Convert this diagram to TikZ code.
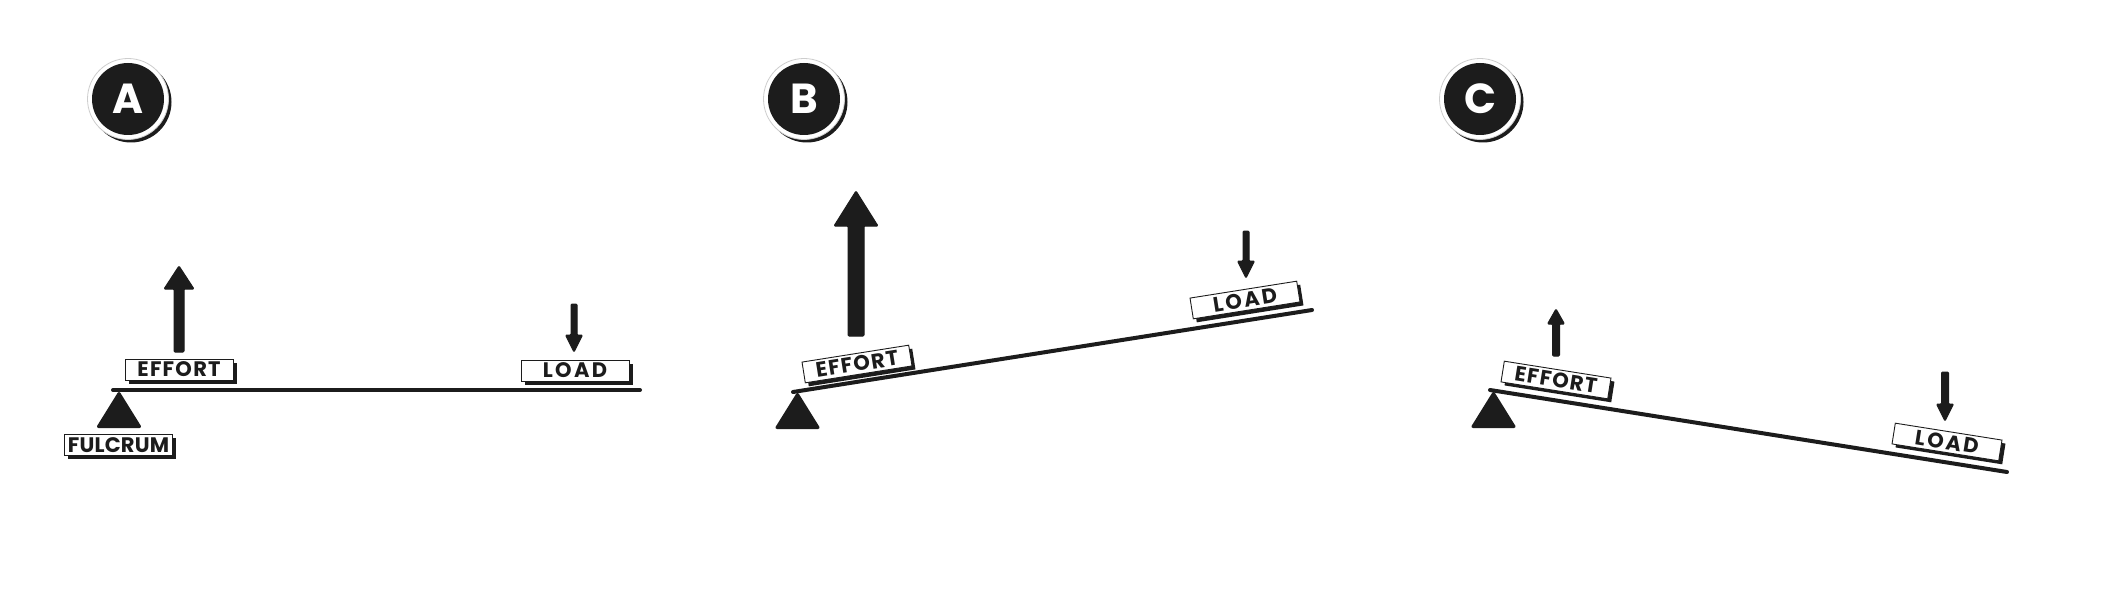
\documentclass[tikz,border=0pt]{standalone}
\usepackage{fontspec}
\setmainfont{Poppins}
\usetikzlibrary{shadows}
\definecolor{ink}{RGB}{28,28,28}
\definecolor{ringgray}{RGB}{205,205,205}
\newcommand\forcearrow[6]{% x, tail y, head-base y, tip y, shaft width, head width
  \filldraw[ink, line width=1pt, line join=round, rounded corners=1pt]
    (#1-#5/2,#2) -- (#1-#5/2,#3) -- (#1-#6/2,#3) -- (#1,#4) -- (#1+#6/2,#3)
    -- (#1+#5/2,#3) -- (#1+#5/2,#2) -- cycle;}
\newcommand\fulcrumtri[2]{% apex x, apex y
  \filldraw[ink, line width=3pt, line join=round] (#1,#2+1.5) -- (#1-20.5,#2+34.5) -- (#1+20.5,#2+34.5) -- cycle;}
\newcommand\lblfont[1]{\fontsize{21}{21}\selectfont\bfseries\addfontfeatures{LetterSpace=#1}}
\tikzset{
  lbl/.style={draw=ink, line width=0.9pt, fill=white, minimum width=108pt, minimum height=21pt,
    inner sep=0pt, text=ink,
    drop shadow={shadow xshift=3.5pt, shadow yshift=-3.5pt, opacity=1, fill=ink}},
  beam/.style={draw=ink, line width=4pt, line cap=round},
  badgeshadow/.style={circle, fill=ink, minimum size=81pt, inner sep=0pt},
  badgering/.style={circle, fill=white, draw=ringgray, line width=0.8pt, minimum size=81pt, inner sep=0pt},
  badge/.style={circle, fill=ink, minimum size=72pt, inner sep=0pt, text=white,
    font=\fontsize{42}{42}\selectfont\bfseries},
}
\begin{document}
\begin{tikzpicture}[x=1pt, y=-1pt]
\useasboundingbox[fill=white] (0,0) rectangle (2107,607);
% ---------- badges
\foreach \n/\x in {A/128, B/804, C/1480}{
  \node[badgeshadow] (s\n) at (\x+3,99+3) {};
  \node[badgering] (r\n) at (\x,99) {};
  \node[badge] (c\n) at (\x,99) {\n};
}
% ---------- Panel A
\draw[beam] (113,390) coordinate (a0) -- (640,390) coordinate (a1);
\fulcrumtri{119}{392}
\node[lbl, font=\lblfont{1}] (fA) at (118.5,445) {FULCRUM};
\node[lbl, font=\lblfont{6}] (eA) at (179,369.5) {EFFORT};
\node[lbl, font=\lblfont{11}] (lA) at (575,370.5) {LOAD};
\forcearrow{179}{352}{289}{266}{10}{30}
\forcearrow{574}{304}{335}{352}{6}{17}
% ---------- Panel B
\draw[beam] (793,392) coordinate (b0) -- (1312,310) coordinate (b1);
\fulcrumtri{797.5}{393}
\node[lbl, rotate=9, font=\lblfont{6}] (eB) at (857,364) {EFFORT};
\node[lbl, rotate=9, font=\lblfont{11}] (lB) at (1245,300) {LOAD};
\forcearrow{856}{336}{226}{191}{16}{44}
\forcearrow{1246}{231}{261}{278}{6}{17}
% ---------- Panel C
\draw[beam] (1490,390) coordinate (c0) -- (2007,472) coordinate (c1);
\fulcrumtri{1493.5}{392}
\node[lbl, rotate=-9, font=\lblfont{6}] (eC) at (1556,380) {EFFORT};
\node[lbl, rotate=-9, font=\lblfont{11}] (lC) at (1947,442) {LOAD};
\forcearrow{1556}{356}{324}{309}{7}{17}
\forcearrow{1945}{372}{404}{421}{7}{17}
\end{tikzpicture}
\end{document}
